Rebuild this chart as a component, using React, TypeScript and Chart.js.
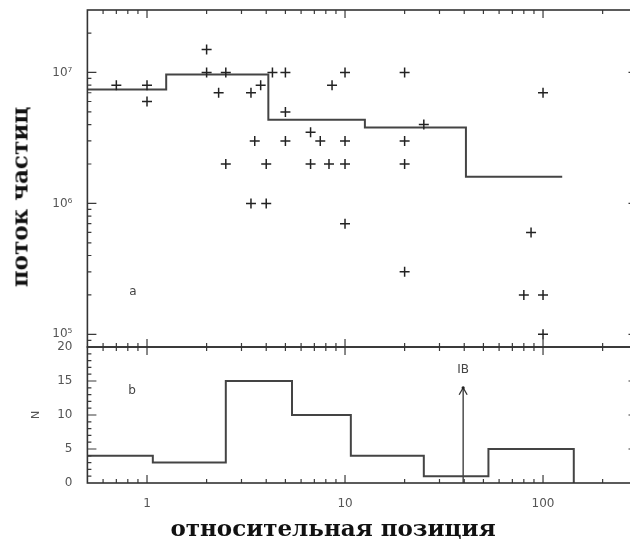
import React, { useEffect, useRef } from 'react';
import { Chart, registerables } from 'chart.js';
Chart.register(...registerables);

// ---- data ----
// top panel: particle flux points (x = relative position, y = flux)
const posX = [0.7, 1, 1, 2, 2, 2.5, 2.3, 3.35, 3.75, 4.3, 5, 5, 3.5, 5, 2.5, 4, 6.7, 6.7, 7.5, 10, 8.3, 10, 20, 20, 10, 8.6, 20, 25, 100, 3.35, 4, 10, 20, 87, 80, 100, 100];
const fluxY = [8e6, 8e6, 6e6, 1.5e7, 1e7, 1e7, 7e6, 7e6, 8e6, 1e7, 1e7, 5e6, 3e6, 3e6, 2e6, 2e6, 3.5e6, 2e6, 3e6, 3e6, 2e6, 2e6, 3e6, 2e6, 1e7, 8e6, 1e7, 4e6, 7e6, 1e6, 1e6, 7e5, 3e5, 6e5, 2e5, 2e5, 1e5];
// top panel: binned mean flux (step line)
const fluxEdges = [0.5, 1.25, 4.1, 12.6, 40.8, 125];
const fluxLevels = [7.4e6, 9.65e6, 4.36e6, 3.8e6, 1.6e6];
// bottom panel: histogram
const binEdges = [0.5, 1.07, 2.5, 5.4, 10.7, 25, 53, 143];
const binCounts = [4, 3, 15, 10, 4, 1, 5];
// IB arrow
const arrowX = 39.5;
const arrowTop = 14;
const arrowLabel = 'IB';
// axis ranges
const xMin = 0.5, xMax = 300;
const fluxMin = 8e4, fluxMax = 3e7;
const nMin = 0, nMax = 20;
// panel labels
const labelA = { text: 'a', x: 0.85, y: 2.1e5 };
const labelB = { text: 'b', x: 0.84, y: 13.5 };
const xTitle = 'относительная позиция';
const yTitle = 'поток частиц';
const nTitle = 'N';

const SUP: Record<string, string> = { '0': '⁰', '1': '¹', '2': '²', '3': '³', '4': '⁴', '5': '⁵', '6': '⁶', '7': '⁷', '8': '⁸', '9': '⁹', '-': '⁻' };
const isPow10 = (v: number) => Math.abs(Math.log10(v) - Math.round(Math.log10(v))) < 1e-9;

function logTicks(min: number, max: number) {
  const out: { v: number; major: boolean }[] = [];
  for (let e = Math.floor(Math.log10(min)); e <= Math.ceil(Math.log10(max)); e++) {
    for (let m = 1; m <= 9; m++) {
      const v = m * Math.pow(10, e);
      if (v > min * 1.0001 && v < max * 0.9999) out.push({ v, major: m === 1 });
    }
  }
  return out;
}
function linTicks(min: number, max: number) {
  const out: { v: number; major: boolean }[] = [];
  for (let v = min + 1; v < max; v++) out.push({ v, major: v % 5 === 0 });
  return out;
}

function framePlugin(yTicks: { v: number; major: boolean }[], extra?: (chart: any) => void) {
  return {
    id: 'frameTicks',
    afterDatasetsDraw(chart: any) {
      const { ctx, chartArea: a, scales } = chart;
      const xs = scales.x, ys = scales.y;
      ctx.save();
      ctx.strokeStyle = '#3a3a3a';
      ctx.lineWidth = 1.2;
      ctx.beginPath();
      for (const t of logTicks(xMin, xMax)) {
        const px = xs.getPixelForValue(t.v);
        const L = t.major ? 8 : 4;
        ctx.moveTo(px, a.top); ctx.lineTo(px, a.top + L);
        ctx.moveTo(px, a.bottom); ctx.lineTo(px, a.bottom - L);
      }
      for (const t of yTicks) {
        const py = ys.getPixelForValue(t.v);
        const L = t.major ? 9 : 4;
        ctx.moveTo(a.left, py); ctx.lineTo(a.left + L, py);
        ctx.moveTo(a.right, py); ctx.lineTo(a.right - L, py);
      }
      ctx.stroke();
      ctx.lineWidth = 1.6;
      ctx.strokeStyle = '#333';
      ctx.strokeRect(a.left, a.top, a.right - a.left, a.bottom - a.top);
      if (extra) extra(chart);
      ctx.restore();
    },
  };
}

export default function App() {
  const topRef = useRef<HTMLCanvasElement>(null);
  const botRef = useRef<HTMLCanvasElement>(null);

  useEffect(() => {
    Chart.defaults.font.family = 'DejaVu Sans';
    // tiny lineHeight keeps Chart.js from padding the plot area for end labels
    const tickFont = { size: 12, family: 'DejaVu Sans', lineHeight: 0.1 };
    const xTickFont = { size: 12, family: 'DejaVu Sans' };
    const tickColor = '#555';

    const points = posX.map((x, i) => ({ x, y: fluxY[i] }));
    const stepPts = fluxEdges.map((x, i) => ({ x, y: i < fluxLevels.length ? fluxLevels[i] : fluxLevels[fluxLevels.length - 1] }));

    const c1 = new Chart(topRef.current!, {
      type: 'scatter',
      data: {
        datasets: [
          {
            data: points,
            pointStyle: 'cross',
            pointRadius: 5,
            pointHoverRadius: 5,
            pointBorderWidth: 1.5,
            pointBorderColor: '#222',
            borderColor: '#222',
          } as any,
          {
            data: stepPts,
            showLine: true,
            stepped: true,
            borderColor: '#444',
            borderWidth: 2,
            pointRadius: 0,
            fill: false,
          } as any,
        ],
      },
      options: {
        responsive: false,
        animation: false,
        devicePixelRatio: 1,
        layout: { autoPadding: false, padding: { left: 0, right: 7.5, top: 10, bottom: 8 } },
        plugins: { legend: { display: false }, tooltip: { enabled: false } },
        scales: {
          x: { type: 'logarithmic', min: xMin, max: xMax, display: false },
          y: {
            type: 'logarithmic',
            min: fluxMin,
            max: fluxMax,
            grid: { display: false },
            border: { display: false },
            afterFit: (s: any) => { s.width = 87.4; },
            ticks: {
              autoSkip: false,
              padding: 7,
              font: tickFont,
              color: tickColor,
              callback: (v: any) => {
                const n = Number(v);
                if (!isPow10(n)) return '';
                const e = String(Math.round(Math.log10(n)));
                return '10' + e.split('').map((c) => SUP[c]).join('');
              },
            },
          },
        },
      } as any,
      plugins: [
        framePlugin(logTicks(fluxMin, fluxMax), (chart: any) => {
          const { ctx, scales } = chart;
          ctx.fillStyle = '#444';
          ctx.font = '12px DejaVu Sans';
          ctx.textAlign = 'center';
          ctx.textBaseline = 'middle';
          ctx.fillText(labelA.text, scales.x.getPixelForValue(labelA.x), scales.y.getPixelForValue(labelA.y));
        }),
      ],
    });

    const histPts: { x: number; y: number }[] = binEdges.slice(0, -1).map((x, i) => ({ x, y: binCounts[i] }));
    histPts.push({ x: binEdges[binEdges.length - 1], y: binCounts[binCounts.length - 1] });
    histPts.push({ x: binEdges[binEdges.length - 1], y: 0 });

    const c2 = new Chart(botRef.current!, {
      type: 'scatter',
      data: {
        datasets: [
          {
            data: histPts,
            showLine: true,
            stepped: true,
            borderColor: '#444',
            borderWidth: 2,
            pointRadius: 0,
            fill: false,
          } as any,
          {
            data: [{ x: arrowX, y: 0 }, { x: arrowX, y: arrowTop }],
            showLine: true,
            borderColor: '#333',
            borderWidth: 1.3,
            pointRadius: 0,
            fill: false,
          } as any,
        ],
      },
      options: {
        responsive: false,
        animation: false,
        devicePixelRatio: 1,
        layout: { autoPadding: false, padding: { left: 0, right: 7.5, top: 11, bottom: 0 } },
        plugins: { legend: { display: false }, tooltip: { enabled: false } },
        scales: {
          x: {
            type: 'logarithmic',
            min: xMin,
            max: xMax,
            grid: { display: false },
            border: { display: false },
            afterFit: (s: any) => { s.height = 59; },
            ticks: {
              autoSkip: false,
              maxRotation: 0,
              padding: 6,
              font: xTickFont,
              color: tickColor,
              callback: (v: any) => (isPow10(Number(v)) ? String(Number(v)) : ''),
            },
          },
          y: {
            type: 'linear',
            min: nMin,
            max: nMax,
            grid: { display: false },
            border: { display: false },
            afterFit: (s: any) => { s.width = 87.4; },
            title: { display: true, text: nTitle, color: tickColor, font: { size: 11, family: 'DejaVu Sans' }, padding: { top: 30, bottom: 0 } },
            ticks: { stepSize: 5, padding: 7, font: tickFont, color: tickColor },
          },
        },
      } as any,
      plugins: [
        framePlugin(linTicks(nMin, nMax), (chart: any) => {
          const { ctx, scales } = chart;
          const px = scales.x.getPixelForValue(arrowX);
          const py = scales.y.getPixelForValue(arrowTop);
          ctx.strokeStyle = '#333';
          ctx.lineWidth = 1.3;
          ctx.beginPath();
          ctx.moveTo(px - 4, py + 7);
          ctx.lineTo(px, py);
          ctx.lineTo(px + 4, py + 7);
          ctx.stroke();
          ctx.fillStyle = '#222';
          ctx.beginPath();
          ctx.arc(px, py, 1.6, 0, Math.PI * 2);
          ctx.fill();
          ctx.fillStyle = '#444';
          ctx.font = '12px DejaVu Sans';
          ctx.textAlign = 'center';
          ctx.textBaseline = 'middle';
          ctx.fillText(arrowLabel, px, py - 18);
          ctx.fillText(labelB.text, scales.x.getPixelForValue(labelB.x), scales.y.getPixelForValue(labelB.y));
        }),
      ],
    });

    return () => {
      c1.destroy();
      c2.destroy();
    };
  }, []);

  const titleFont = "bold 23px 'DejaVu Serif'";
  return (
    <div style={{ position: 'absolute', left: 0, top: 0, width: 630, height: 542, overflow: 'hidden', background: '#fff' }}>
      <canvas ref={topRef} width={645} height={355} style={{ position: 'absolute', left: 0, top: 0, width: 645, height: 355 }} />
      <canvas ref={botRef} width={645} height={206} style={{ position: 'absolute', left: 0, top: 336, width: 645, height: 206 }} />
      <div style={{ position: 'absolute', left: 333, top: 516, transform: 'translateX(-50%)', font: titleFont, lineHeight: '23px', whiteSpace: 'nowrap', color: '#111' }}>
        {xTitle}
      </div>
      <div style={{ position: 'absolute', left: 19, top: 197, transform: 'translate(-50%, -50%) rotate(-90deg)', font: titleFont, lineHeight: '23px', whiteSpace: 'nowrap', color: '#111' }}>
        {yTitle}
      </div>
    </div>
  );
}
